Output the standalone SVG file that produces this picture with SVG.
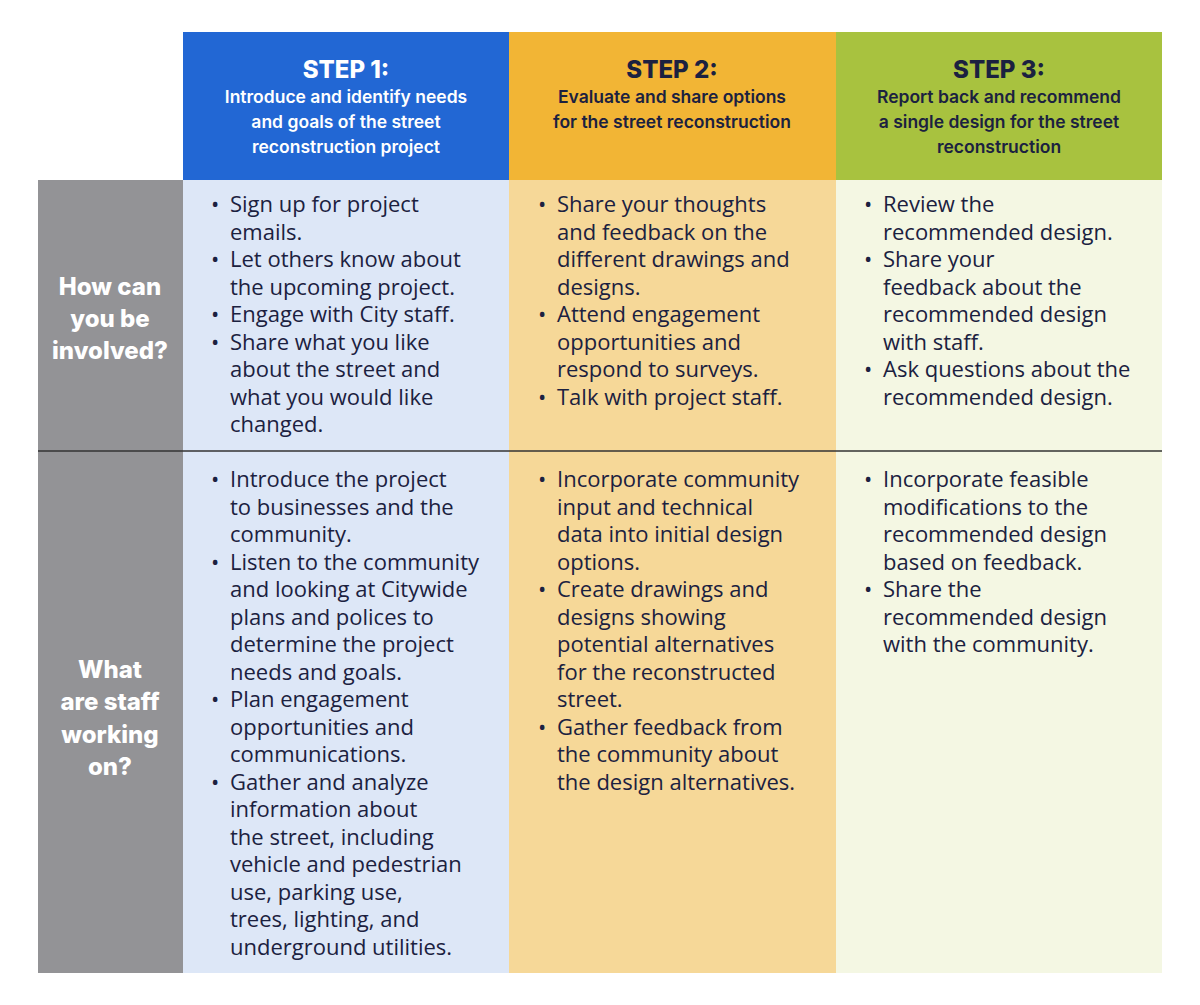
<svg xmlns="http://www.w3.org/2000/svg" width="1200" height="1005" viewBox="0 0 1200 1005">
<style>
.b{font-family:"Open Sans","Noto Sans",sans-serif;font-size:22px;fill:#1b2140}
.h{font-family:"Inter","Lato",sans-serif;font-weight:800;font-size:24px;text-anchor:middle}
.s{font-family:"Inter","Lato",sans-serif;font-weight:600;font-size:17.5px;text-anchor:middle}
.l{font-family:"Inter","Lato",sans-serif;font-weight:800;font-size:24px;fill:#fff;text-anchor:middle}
</style>
<rect width="1200" height="1005" fill="#fff"/>
<g id="labels">
<rect x="38" y="180" width="145" height="793" fill="#939396"/>
<text class="l" x="110" y="295">How can</text><text class="l" x="110" y="327">you be</text><text class="l" x="110" y="359">involved?</text>
<text class="l" x="110" y="678">What</text><text class="l" x="110" y="710">are staff</text><text class="l" x="110" y="743">working</text><text class="l" x="110" y="775">on?</text>
</g>
<g id="step1">
<rect x="183" y="32" width="326" height="148" fill="#2267d4"/>
<rect x="183" y="180" width="326" height="793" fill="#dde7f7"/>
<text class="h" x="346" y="78" fill="#fff">STEP 1:</text>
<g class="s" fill="#fff"><text x="346" y="103">Introduce and identify needs</text><text x="346" y="128">and goals of the street</text><text x="346" y="153">reconstruction project</text></g>
<g class="b">
<text x="211" y="212">•</text><text x="230" y="212">Sign up for project</text><text x="230" y="239.5">emails.</text>
<text x="211" y="267">•</text><text x="230" y="267">Let others know about</text><text x="230" y="294.5">the upcoming project.</text>
<text x="211" y="322">•</text><text x="230" y="322">Engage with City staff.</text>
<text x="211" y="349.5">•</text><text x="230" y="349.5">Share what you like</text><text x="230" y="377">about the street and</text><text x="230" y="404.5">what you would like</text><text x="230" y="432">changed.</text>
<text x="211" y="487">•</text><text x="230" y="487">Introduce the project</text><text x="230" y="514.5">to businesses and the</text><text x="230" y="542">community.</text>
<text x="211" y="569.5">•</text><text x="230" y="569.5">Listen to the community</text><text x="230" y="597">and looking at Citywide</text><text x="230" y="624.5">plans and polices to</text><text x="230" y="652">determine the project</text><text x="230" y="679.5">needs and goals.</text>
<text x="211" y="707">•</text><text x="230" y="707">Plan engagement</text><text x="230" y="734.5">opportunities and</text><text x="230" y="762">communications.</text>
<text x="211" y="789.5">•</text><text x="230" y="789.5">Gather and analyze</text><text x="230" y="817">information about</text><text x="230" y="844.5">the street, including</text><text x="230" y="872">vehicle and pedestrian</text><text x="230" y="899.5">use, parking use,</text><text x="230" y="927">trees, lighting, and</text><text x="230" y="954.5">underground utilities.</text>
</g>
</g>
<g id="step2">
<rect x="509" y="32" width="327" height="148" fill="#f2b535"/>
<rect x="509" y="180" width="327" height="793" fill="#f6d898"/>
<text class="h" x="672" y="78" fill="#1b2140">STEP 2:</text>
<g class="s" fill="#1b2140"><text x="672" y="103">Evaluate and share options</text><text x="672" y="128">for the street reconstruction</text></g>
<g class="b">
<text x="538" y="212">•</text><text x="557" y="212">Share your thoughts</text><text x="557" y="239.5">and feedback on the</text><text x="557" y="267">different drawings and</text><text x="557" y="294.5">designs.</text>
<text x="538" y="322">•</text><text x="557" y="322">Attend engagement</text><text x="557" y="349.5">opportunities and</text><text x="557" y="377">respond to surveys.</text>
<text x="538" y="404.5">•</text><text x="557" y="404.5">Talk with project staff.</text>
<text x="538" y="487">•</text><text x="557" y="487">Incorporate community</text><text x="557" y="514.5">input and technical</text><text x="557" y="542">data into initial design</text><text x="557" y="569.5">options.</text>
<text x="538" y="597">•</text><text x="557" y="597">Create drawings and</text><text x="557" y="624.5">designs showing</text><text x="557" y="652">potential alternatives</text><text x="557" y="679.5">for the reconstructed</text><text x="557" y="707">street.</text>
<text x="538" y="734.5">•</text><text x="557" y="734.5">Gather feedback from</text><text x="557" y="762">the community about</text><text x="557" y="789.5">the design alternatives.</text>
</g>
</g>
<g id="step3">
<rect x="836" y="32" width="326" height="148" fill="#a8c23f"/>
<rect x="836" y="180" width="326" height="793" fill="#f4f7e3"/>
<text class="h" x="999" y="78" fill="#1b2140">STEP 3:</text>
<g class="s" fill="#1b2140"><text x="999" y="103">Report back and recommend</text><text x="999" y="128">a single design for the street</text><text x="999" y="153">reconstruction</text></g>
<g class="b">
<text x="864" y="212">•</text><text x="883" y="212">Review the</text><text x="883" y="239.5">recommended design.</text>
<text x="864" y="267">•</text><text x="883" y="267">Share your</text><text x="883" y="294.5">feedback about the</text><text x="883" y="322">recommended design</text><text x="883" y="349.5">with staff.</text>
<text x="864" y="377">•</text><text x="883" y="377">Ask questions about the</text><text x="883" y="404.5">recommended design.</text>
<text x="864" y="487">•</text><text x="883" y="487">Incorporate feasible</text><text x="883" y="514.5">modifications to the</text><text x="883" y="542">recommended design</text><text x="883" y="569.5">based on feedback.</text>
<text x="864" y="597">•</text><text x="883" y="597">Share the</text><text x="883" y="624.5">recommended design</text><text x="883" y="652">with the community.</text>
</g>
</g>
<g id="connectors">
<line x1="38" y1="451" x2="1162" y2="451" stroke="#333" stroke-width="1.5"/>
</g>
</svg>
